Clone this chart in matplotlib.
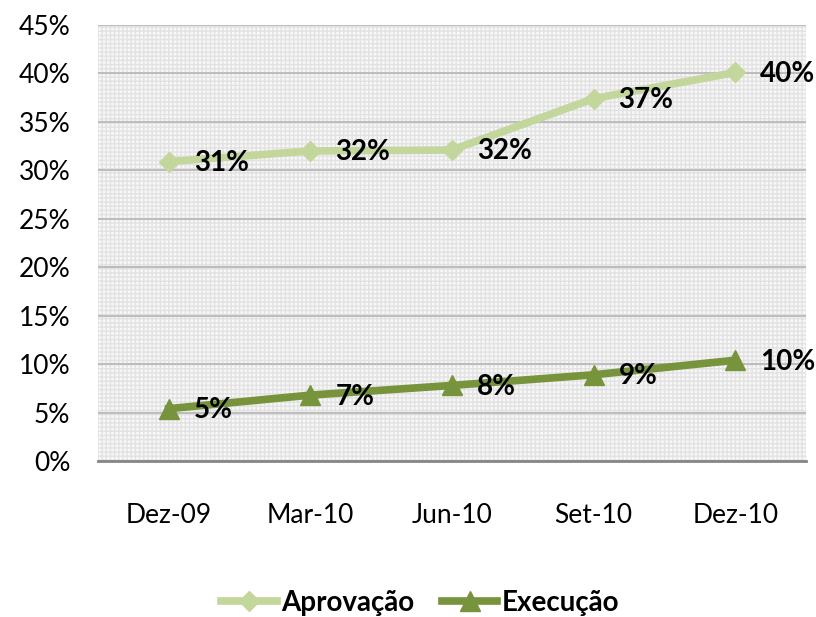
import matplotlib.pyplot as plt
from matplotlib.patches import Rectangle
from matplotlib.ticker import FuncFormatter

# data
periodos = ["Dez-09", "Mar-10", "Jun-10", "Set-10", "Dez-10"]
aprovacao = [30.9, 32.0, 32.1, 37.4, 40.1]
execucao = [5.4, 6.8, 7.8, 8.9, 10.4]
aprov_labels = ["31%", "32%", "32%", "37%", "40%"]
exec_labels = ["5%", "7%", "8%", "9%", "10%"]

plt.rcParams['font.family'] = ['Lato', 'DejaVu Sans']

fig = plt.figure(figsize=(8.16, 6.17), dpi=100)
ax = fig.add_axes([98/816, 1 - 461/617, 708/816, 436/617])

x = list(range(len(periodos)))

# patterned plot background
ax.set_facecolor("#f7f7f7")
ax.add_patch(Rectangle((0, 0), 1, 1, transform=ax.transAxes, facecolor="none",
                       edgecolor="#e2e2e2", hatch="++++", lw=0, zorder=0))
ax.grid(axis="y", color="#bdbdbd", lw=1.5, zorder=1)
ax.set_axisbelow(True)

ax.plot(x, aprovacao, color="#c3d69b", lw=5.5, marker="D", ms=10,
        label="Aprovação", zorder=3)
ax.plot(x, execucao, color="#77933c", lw=5.5, marker="^", ms=14,
        label="Execução", zorder=3)

for xi, v, t in zip(x, aprovacao, aprov_labels):
    ax.annotate(t, (xi, v), xytext=(18, -1), textcoords="offset points",
                ha="left", va="center", fontsize=20, fontweight="bold", zorder=4)
for xi, v, t in zip(x, execucao, exec_labels):
    ax.annotate(t, (xi, v), xytext=(18, -1), textcoords="offset points",
                ha="left", va="center", fontsize=20, fontweight="bold", zorder=4)

ax.set_xlim(-0.5, 4.5)
ax.set_ylim(0, 45)
ax.set_yticks(range(0, 50, 5))
ax.yaxis.set_major_formatter(FuncFormatter(lambda v, p: f"{v:.0f}%"))
ax.set_xticks(x)
ax.set_xticklabels(periodos)
ax.tick_params(length=0, labelsize=19, colors="black")
ax.tick_params(axis="x", pad=30)
ax.tick_params(axis="y", pad=20)

for s in ["top", "right", "left"]:
    ax.spines[s].set_visible(False)
ax.spines["bottom"].set_color("#868686")
ax.spines["bottom"].set_linewidth(2)

leg = fig.legend(loc="center", bbox_to_anchor=(0.515, 1 - 603/617), ncol=2,
                 frameon=False, prop={"size": 20, "weight": "bold"},
                 handlelength=2.0, columnspacing=1.0, handletextpad=0.15)

fig.savefig("out.png", dpi=100)
